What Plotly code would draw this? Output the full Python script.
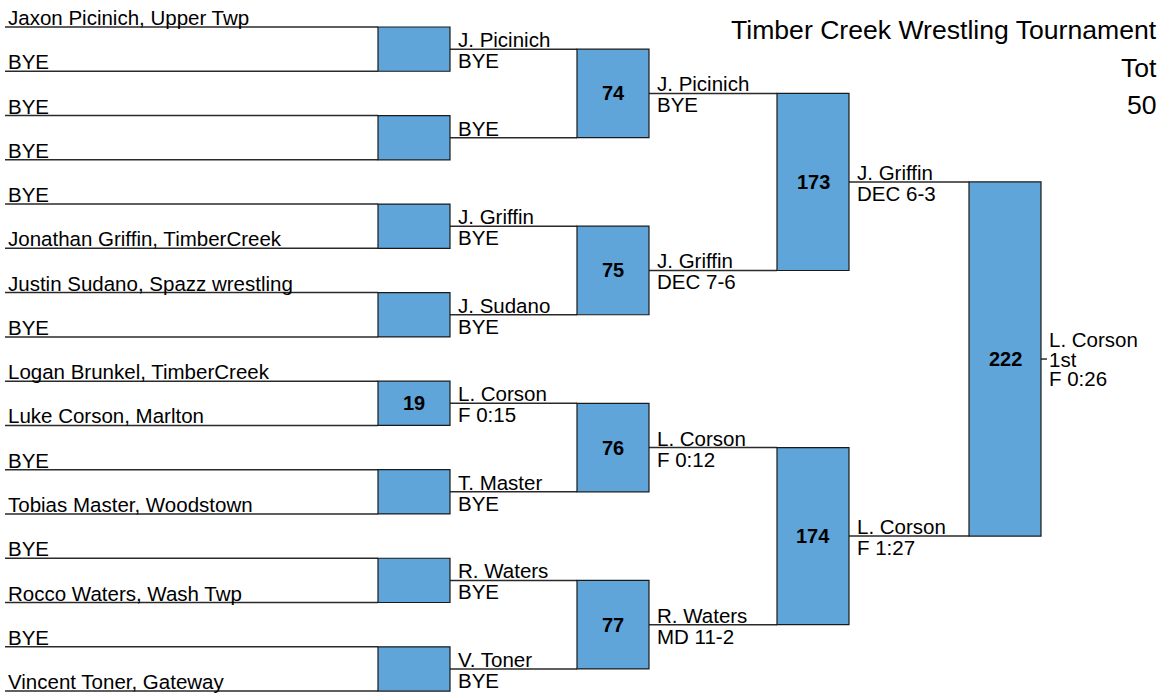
import plotly.graph_objects as go

# ---------------- data ----------------
round1_names = [
    "Jaxon Picinich, Upper Twp", "BYE", "BYE", "BYE",
    "BYE", "Jonathan Griffin, TimberCreek", "Justin Sudano, Spazz wrestling", "BYE",
    "Logan Brunkel, TimberCreek", "Luke Corson, Marlton", "BYE", "Tobias Master, Woodstown",
    "BYE", "Rocco Waters, Wash Twp", "BYE", "Vincent Toner, Gateway",
]
round1_bouts = ["", "", "", "", "19", "", "", ""]

round2_winners = ["J. Picinich", "BYE", "J. Griffin", "J. Sudano", "L. Corson", "T. Master", "R. Waters", "V. Toner"]
round2_results = ["BYE", "", "BYE", "BYE", "F 0:15", "BYE", "BYE", "BYE"]
round2_bouts = ["74", "75", "76", "77"]

round3_winners = ["J. Picinich", "J. Griffin", "L. Corson", "R. Waters"]
round3_results = ["BYE", "DEC 7-6", "F 0:12", "MD 11-2"]
round3_bouts = ["173", "174"]

round4_winners = ["J. Griffin", "L. Corson"]
round4_results = ["DEC 6-3", "F 1:27"]
round4_bouts = ["222"]

champion = ["L. Corson", "1st", "F 0:26"]

title_lines = ["Timber Creek Wrestling Tournament", "Tot", "50"]

# ---------------- layout constants ----------------
W, H = 1165, 698
TOP = 27.0
PITCH = 44.27
LINE_START = [5, 450, 649, 849]     # x where each round's lines start
BOX_X = [378, 577, 777, 969]        # x where each round's boxes start
BOX_W = 72
LINE_COLOR = "#2a2a2a"
BOX_FILL = "#5fa5da"
FONT = "Liberation Sans, Arial, sans-serif"
FS = 20.5

fig = go.Figure()
shapes = []
annotations = []


def slot_y(rnd, i):
    span = 2 ** rnd
    return TOP + PITCH * (i * span + (span - 1) / 2.0)


def add_line(x0, x1, y):
    shapes.append(dict(type="line", x0=x0, x1=x1, y0=y, y1=y,
                       line=dict(color=LINE_COLOR, width=1.5), layer="below"))


def add_text(x, y, text, anchor_y, size=FS, bold=False, xanchor="left", height=None):
    a = dict(x=x, y=y, text=("<b>%s</b>" % text) if bold else text,
             showarrow=False, xanchor=xanchor, yanchor=anchor_y,
             font=dict(family=FONT, size=size, color="#000"),
             borderpad=0)
    if height:
        a["height"] = height
    annotations.append(a)


rounds = [
    (round1_names, None),
    (round2_winners, round2_results),
    (round3_winners, round3_results),
    (round4_winners, round4_results),
]
bouts = [round1_bouts, round2_bouts, round3_bouts, round4_bouts]

for r, (tops, bottoms) in enumerate(rounds):
    for i, name in enumerate(tops):
        y = slot_y(r, i)
        add_line(LINE_START[r], BOX_X[r], y)
        xt = LINE_START[r] + (2 if r == 0 else 7)
        add_text(xt, y + 3, name, "bottom")
        if bottoms is not None and bottoms[i]:
            add_text(xt, y - 1, bottoms[i], "top")
    for j, b in enumerate(bouts[r]):
        y0 = slot_y(r, 2 * j)
        y1 = slot_y(r, 2 * j + 1)
        shapes.append(dict(type="rect", x0=BOX_X[r], x1=BOX_X[r] + BOX_W, y0=y0, y1=y1,
                           fillcolor=BOX_FILL, line=dict(color="#1a1a1a", width=1.2)))
        if b:
            add_text(BOX_X[r] + BOX_W / 2, (y0 + y1) / 2, b, "middle", size=20,
                     bold=True, xanchor="center")

# champion
yc = slot_y(4, 0)
xc = BOX_X[3] + BOX_W
add_line(xc, xc + 6, yc)
for k, t in enumerate(champion):
    add_text(xc + 7, yc + 19.3 * (k - 1), t, "middle", height=19)

# title block
for k, t in enumerate(title_lines):
    add_text(1158, 30 + 37.5 * k, t, "middle", size=26.6, xanchor="right")

fig.update_layout(
    width=W, height=H,
    margin=dict(l=0, r=0, t=0, b=0),
    plot_bgcolor="white", paper_bgcolor="white",
    xaxis=dict(range=[0, W], visible=False, fixedrange=True),
    yaxis=dict(range=[H, 0], visible=False, fixedrange=True),
    shapes=shapes, annotations=annotations, showlegend=False,
)

fig.write_html("out.html", config={"displayModeBar": False},
               post_script="document.body.style.margin='0';")
